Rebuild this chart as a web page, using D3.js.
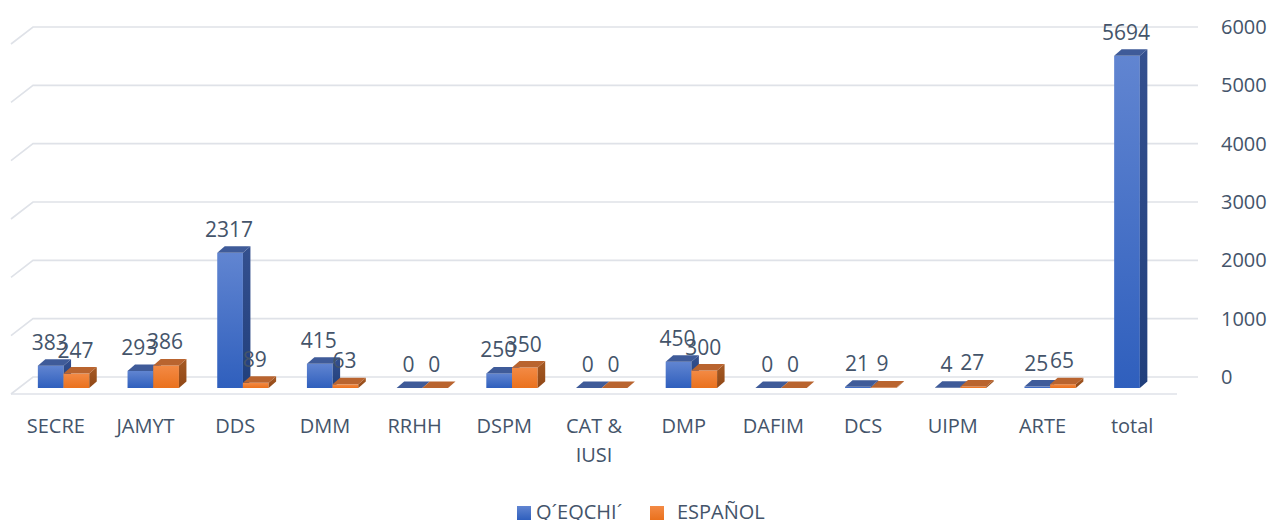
<!DOCTYPE html>
<html lang="es">
<head>
    <meta charset="UTF-8">
    <title>Q´EQCHI´ / ESPAÑOL</title>
    <script src="https://d3js.org/d3.v7.min.js"></script>
    <style>
        body { margin: 0; background: #fff; }
        svg { display: block; font-family: "Open Sans", sans-serif; }
    </style>
</head>
<body>
    <div id="chart"></div>

    <script>
        // data
        const categories = ["SECRE", "JAMYT", "DDS", "DMM", "RRHH", "DSPM", "CAT &\nIUSI", "DMP", "DAFIM", "DCS", "UIPM", "ARTE", "total"];
        const seriesNames = ["Q´EQCHI´", "ESPAÑOL"];
        const qeqchi  = [383, 293, 2317, 415, 0, 250, 0, 450, 0, 21, 4, 25, 5694];
        const espanol = [247, 386, 89, 63, 0, 350, 0, 300, 0, 9, 27, 65, null];
        const yTicks = [0, 1000, 2000, 3000, 4000, 5000, 6000];

        const width = 1271;
        const height = 520;
        const textColor = "#44546a";

        // floor geometry (oblique 3d look)
        const floorFront = 394, floorBack = 377;
        const xFront0 = 11, xFront1 = 1177, xBack0 = 33, xBack1 = 1198;
        const barBase = 388;            // bottom of bars' front faces
        const barShift = 7.7;           // x shift of the bar plane from the front edge
        const dX = 7.5, dY = -6.5;      // bar depth

        const svg = d3.select("#chart").append("svg")
            .attr("width", width)
            .attr("height", height);

        const defs = svg.append("defs");
        function grad(id, top, bottom) {
            const g = defs.append("linearGradient").attr("id", id)
                .attr("x1", 0).attr("y1", 0).attr("x2", 0).attr("y2", 1);
            g.append("stop").attr("offset", "0%").attr("stop-color", top);
            g.append("stop").attr("offset", "100%").attr("stop-color", bottom);
        }
        grad("blueFront", "#6185d1", "#2f5fbd");
        grad("blueSide", "#34508f", "#213f7c");
        grad("orangeFront", "#f38a45", "#ea711d");
        grad("orangeSide", "#a65a24", "#8f4716");

        const colors = [
            { front: "url(#blueFront)", side: "url(#blueSide)", top: "#3f5b99", legend: "url(#blueFront)" },
            { front: "url(#orangeFront)", side: "url(#orangeSide)", top: "#b9642f", legend: "url(#orangeFront)" }
        ];

        const x = d3.scaleBand().domain(categories).range([xFront0, xFront1]);
        const barW = 25.7;
        const xs = d3.scaleBand().domain(seriesNames).range([-barW, barW]);
        const y = d3.scaleLinear().domain([0, 6000]).range([0, 350]);

        // gridlines (side wall + back wall)
        const grid = svg.append("g");
        yTicks.forEach(t => {
            const h = y(t);
            grid.append("polyline")
                .attr("points", `${xFront0},${floorFront - h} ${xBack0},${floorBack - h} ${xBack1},${floorBack - h}`)
                .attr("fill", "none")
                .attr("stroke", "#dfe2e8")
                .attr("stroke-width", 1.6);
        });
        grid.append("line")
            .attr("x1", xFront0).attr("x2", xFront1)
            .attr("y1", floorFront).attr("y2", floorFront)
            .attr("stroke", "#dfe2e8").attr("stroke-width", 1.6);

        // y axis labels on the right
        svg.append("g").selectAll("text")
            .data(yTicks)
            .enter()
            .append("text")
            .attr("x", 1221)
            .attr("y", d => floorBack - y(d))
            .attr("dy", "0.35em")
            .attr("font-size", 20)
            .attr("fill", textColor)
            .text(d => d);

        // bars
        const bars = [];
        categories.forEach((c, i) => {
            [qeqchi[i], espanol[i]].forEach((v, s) => {
                if (v === null) return;
                const x0 = x(c) + x.bandwidth() / 2 + barShift + xs(seriesNames[s]);
                bars.push({ x0, h: y(v), v, s });
            });
        });

        const barG = svg.append("g");
        bars.forEach(b => {
            const x0 = b.x0, x1 = b.x0 + barW, yt = barBase - b.h;
            const c = colors[b.s];
            if (b.h > 0.5) {
                barG.append("rect")
                    .attr("x", x0).attr("y", yt)
                    .attr("width", barW).attr("height", b.h)
                    .attr("fill", c.front);
                barG.append("polygon")
                    .attr("points", `${x1},${barBase} ${x1 + dX},${barBase + dY} ${x1 + dX},${yt + dY} ${x1},${yt}`)
                    .attr("fill", c.side);
            }
            barG.append("polygon")
                .attr("points", `${x0},${yt} ${x0 + dX},${yt + dY} ${x1 + dX},${yt + dY} ${x1},${yt}`)
                .attr("fill", c.top);
        });

        // data labels
        svg.append("g").selectAll("text")
            .data(bars)
            .enter()
            .append("text")
            .attr("x", d => d.x0 + barW / 2 - 1)
            .attr("y", d => barBase - d.h - 16)
            .attr("text-anchor", "middle")
            .attr("font-size", 21)
            .attr("fill", textColor)
            .text(d => d.v);

        // category labels
        const catG = svg.append("g");
        categories.forEach(c => {
            const t = catG.append("text")
                .attr("x", x(c) + x.bandwidth() / 2)
                .attr("y", 433)
                .attr("text-anchor", "middle")
                .attr("font-size", 20)
                .attr("fill", textColor);
            c.split("\n").forEach((line, j) => {
                t.append("tspan")
                    .attr("x", x(c) + x.bandwidth() / 2)
                    .attr("dy", j === 0 ? 0 : 29)
                    .text(line);
            });
        });

        // legend
        const legend = svg.append("g");
        const legendX = [517, 650];
        seriesNames.forEach((name, s) => {
            legend.append("rect")
                .attr("x", legendX[s]).attr("y", 506)
                .attr("width", 14).attr("height", 14)
                .attr("fill", colors[s].legend);
            legend.append("text")
                .attr("x", legendX[s] + (s === 0 ? 19 : 27))
                .attr("y", 519)
                .attr("font-size", 20)
                .attr("fill", textColor)
                .text(name);
        });
    </script>
</body>
</html>
